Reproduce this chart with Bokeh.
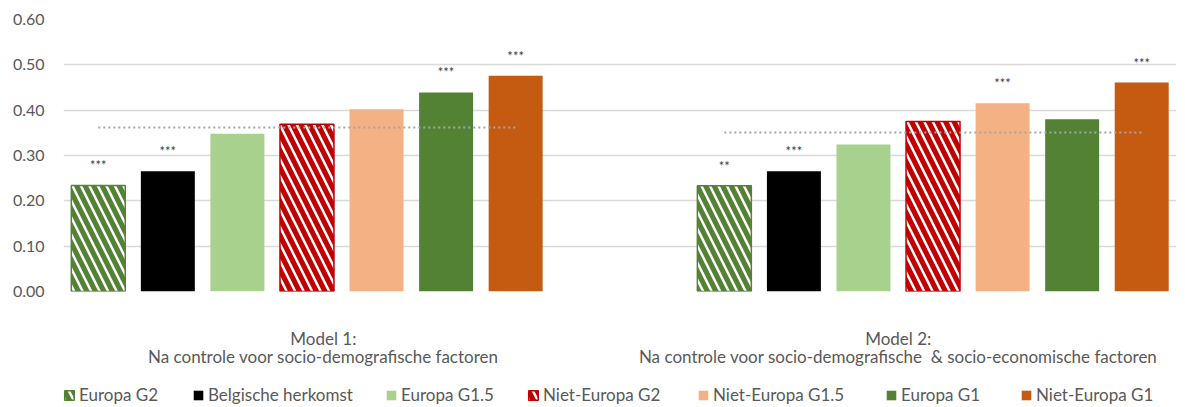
from bokeh.plotting import figure
from bokeh.layouts import column
from bokeh.models import (ColumnDataSource, Range1d, FixedTicker, NumeralTickFormatter,
                          Legend, LegendItem)
from bokeh.core.properties import value
from bokeh.embed import file_html
from bokeh.resources import INLINE

# ---------------- data ----------------
series = ["Europa G2", "Belgische herkomst", "Europa G1.5", "Niet-Europa G2",
          "Niet-Europa G1.5", "Europa G1", "Niet-Europa G1"]
models = ["Model 1:\nNa controle voor socio-demografische factoren",
          "Model 2:\nNa controle voor socio-demografische\u00a0 & socio-economische factoren"]
model1 = [0.234, 0.265, 0.348, 0.369, 0.402, 0.439, 0.476]
model2 = [0.233, 0.265, 0.324, 0.375, 0.415, 0.380, 0.461]
avg_line = [0.362, 0.351]
sig1 = ["***", "***", "", "", "", "***", "***"]
sig2 = ["**", "***", "", "", "***", "", "***"]
colors = ["#548235", "#000000", "#A9D18E", "#C00000", "#F4B183", "#548235", "#C55A11"]
hatched = [True, False, False, True, False, False, False]

FONT = "Lato"
TXT = "#595959"
FRAME_LEFT = 63

values_by_model = [model1, model2]
sig_by_model = [sig1, sig2]
slot_start = [0, 1]          # 8 slots per category; model 1 uses 0-6, model 2 uses 1-7
n_slots = 8
bar_w = 0.097
label_nudge = [-0.033, 0.0]  # Excel places the first category label slightly left
legend_left_px = [63, 192, 385, 527, 697, 885, 1020]   # legend entry anchors (layout)

def xpos(g, i):
    return g + 0.5 + (i + slot_start[g] - (n_slots - 1) / 2) / n_slots

def bar_style(i):
    if hatched[i]:
        return dict(fill_color=colors[i], line_color=colors[i], line_width=1.5,
                    hatch_pattern="\\", hatch_color="white", hatch_scale=17,
                    hatch_weight=2.5)
    return dict(fill_color=colors[i], line_color=None)

p = figure(frame_width=1113, frame_height=272, output_backend="svg",
           toolbar_location=None, x_range=Range1d(0, 2), y_range=Range1d(0, 0.6),
           min_border_left=FRAME_LEFT, min_border_right=1, min_border_top=19,
           min_border_bottom=80)
p.outline_line_color = None
p.background_fill_color = "white"
p.border_fill_color = "white"

# grid
p.xgrid.visible = False
p.ygrid.grid_line_color = "#D9D9D9"
p.ygrid.grid_line_width = 1.3
p.ygrid.ticker = FixedTicker(ticks=[0, 0.1, 0.2, 0.3, 0.4, 0.5, 0.6])

# y axis
p.yaxis.ticker = FixedTicker(ticks=[0, 0.1, 0.2, 0.3, 0.4, 0.5, 0.6])
p.yaxis.formatter = NumeralTickFormatter(format="0.00")
p.yaxis.axis_line_color = None
p.yaxis.major_tick_line_color = None
p.yaxis.minor_tick_line_color = None
p.yaxis.major_tick_out = 0
p.yaxis.major_label_standoff = 19
p.yaxis.major_label_text_font = FONT
p.yaxis.major_label_text_font_size = "16px"
p.yaxis.major_label_text_color = TXT

# x axis (category labels)
label_ticks = [g + 0.5 + label_nudge[g] for g in range(2)]
p.xaxis.ticker = FixedTicker(ticks=label_ticks)
p.xaxis.major_label_overrides = {label_ticks[g]: models[g] for g in range(2)}
p.xaxis.axis_line_color = None
p.xaxis.major_tick_line_color = None
p.xaxis.minor_tick_line_color = None
p.xaxis.major_tick_out = 0
p.xaxis.major_label_standoff = 36
p.xaxis.major_label_text_font = FONT
p.xaxis.major_label_text_font_size = "17px"
p.xaxis.major_label_text_line_height = 0.9
p.xaxis.major_label_text_color = TXT

for i, name in enumerate(series):
    src = ColumnDataSource(dict(
        x=[xpos(g, i) for g in range(2)],
        top=[values_by_model[g][i] for g in range(2)],
    ))
    p.vbar(x="x", top="top", bottom=0, width=bar_w, source=src, **bar_style(i))

# significance stars
sx, sy, st = [], [], []
for g in range(2):
    for i in range(len(series)):
        if sig_by_model[g][i]:
            sx.append(xpos(g, i))
            sy.append(values_by_model[g][i])
            st.append(sig_by_model[g][i])
p.text(x=sx, y=sy, text=st, text_align="center", text_baseline="middle",
       y_offset=-20, text_font=value(FONT), text_font_size="13px",
       text_color="#404040")

# dotted average lines
for g in range(2):
    p.line(x=[xpos(g, 0), xpos(g, len(series) - 1)], y=[avg_line[g]] * 2,
           line_color="#A6A6A6", line_width=2, line_dash="2 3")

# ---------------- legend strip (separate figure under the chart) ----------------
leg = figure(frame_width=1113, frame_height=34, output_backend="svg",
             toolbar_location=None,
             x_range=Range1d(0, 1), y_range=Range1d(0, 1),
             x_axis_location=None, y_axis_location=None,
             min_border_left=FRAME_LEFT, min_border_right=1, min_border_top=0,
             min_border_bottom=0)
leg.outline_line_color = None
leg.background_fill_alpha = 0
leg.xgrid.visible = False
leg.ygrid.visible = False
for i, name in enumerate(series):
    # zero-height, off-screen proxy glyph carrying the series style for the swatch
    r = leg.vbar(x=[-5], top=[0], bottom=0, width=0.01, **bar_style(i))
    lg = Legend(items=[LegendItem(label=name, renderers=[r])],
                orientation="horizontal",
                location=(legend_left_px[i] - FRAME_LEFT, 0),
                glyph_width=12, glyph_height=12, label_height=12,
                label_standoff=4, spacing=0, padding=0, margin=0,
                border_line_color=None, background_fill_alpha=0,
                label_text_font=FONT, label_text_font_size="17px",
                label_text_color=TXT, label_text_baseline="middle")
    leg.add_layout(lg, "center")

layout = column(p, leg, spacing=0)
open("out.html", "w").write(file_html(layout, INLINE))
